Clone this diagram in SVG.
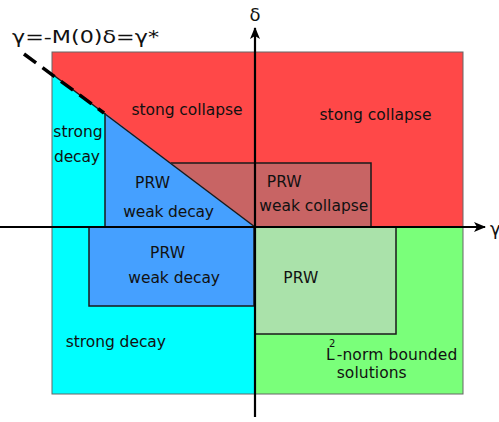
<svg xmlns="http://www.w3.org/2000/svg" width="499" height="422" viewBox="0 0 499 422">
<style>
text{font-family:"DejaVu Sans","Liberation Sans",sans-serif;font-size:15.5px;fill:#111}
.edge{stroke:#1a1a1a;stroke-width:1.5;fill:none}
.axis{stroke:#000;stroke-width:2.2;fill:none}
</style>
<defs>
<marker id="arr" viewBox="0 0 12 10" refX="11" refY="5" markerWidth="12" markerHeight="10" markerUnits="userSpaceOnUse" orient="auto">
<path d="M0,0 L12,5 L0,10 L3,5 Z" fill="#000"/>
</marker>
</defs>
<rect width="499" height="422" fill="#fff"/>
<g id="collapse-region">
<rect x="52" y="52" width="411" height="175" fill="#ff4848"/>
<text x="131.5" y="115" textLength="111">stong collapse</text>
<text x="319.5" y="119.5" textLength="112">stong collapse</text>
</g>
<g id="strong-decay-region">
<polygon points="52,74 255,227 255,394 52,394" fill="#00ffff"/>
<text x="53.3" y="137" textLength="49.4">strong</text>
<text x="54" y="161.5" textLength="46">decay</text>
<text x="65.7" y="346.7" textLength="100.3">strong decay</text>
</g>
<g id="bounded-region">
<rect x="255" y="227" width="208" height="167" fill="#7aff7a"/>
<text x="326" y="359.5">L</text>
<text x="329" y="346.5" style="font-size:10px">2</text>
<text x="336.7" y="359.5" textLength="120.6">-norm bounded</text>
<text x="336.7" y="378.3" textLength="70">solutions</text>
</g>
<rect x="52" y="52" width="411" height="342" fill="none" stroke="#666" stroke-width="1"/>
<g id="prw-weak-collapse">
<polygon points="170.7,163 371,163 371,227 255,227" fill="#c86464"/>
<polyline points="170.7,163 371,163 371,227" class="edge"/>
<text x="266.7" y="186.7" textLength="35">PRW</text>
<text x="259.3" y="210.7" textLength="109">weak collapse</text>
</g>
<g id="prw-weak-decay-upper">
<polygon points="105,113 255,227 105,227" fill="#45a0ff"/>
<line x1="105" y1="113" x2="105" y2="227" class="edge"/>
<text x="135" y="188.3" textLength="35">PRW</text>
<text x="123.3" y="217.3" textLength="90.7">weak decay</text>
</g>
<g id="prw-weak-decay-lower">
<rect x="89" y="227" width="165" height="79" class="edge" style="fill:#45a0ff"/>
<text x="150" y="258.3" textLength="35">PRW</text>
<text x="128.3" y="282.7" textLength="91.7">weak decay</text>
</g>
<g id="prw-bounded">
<rect x="255" y="227" width="141" height="107" class="edge" style="fill:#aae2aa"/>
<text x="283.3" y="283.3" textLength="35">PRW</text>
</g>
<g id="connectors">
<line x1="52" y1="74" x2="255" y2="227" class="edge"/>
<line x1="24" y1="54" x2="104" y2="113" stroke="#000" stroke-width="3.5" stroke-dasharray="15 8"/>
<line x1="0" y1="227" x2="485" y2="227" class="axis" marker-end="url(#arr)"/>
<line x1="255" y1="417" x2="255" y2="28" class="axis" marker-end="url(#arr)"/>
</g>
<g id="labels">
<text x="12" y="43" style="font-size:17.5px" textLength="147" lengthAdjust="spacingAndGlyphs">γ=-M(0)δ=γ*</text>
<text x="255" y="21" style="font-size:18px" text-anchor="middle">δ</text>
<text x="490" y="235" style="font-size:18px">γ</text>
</g>
</svg>
